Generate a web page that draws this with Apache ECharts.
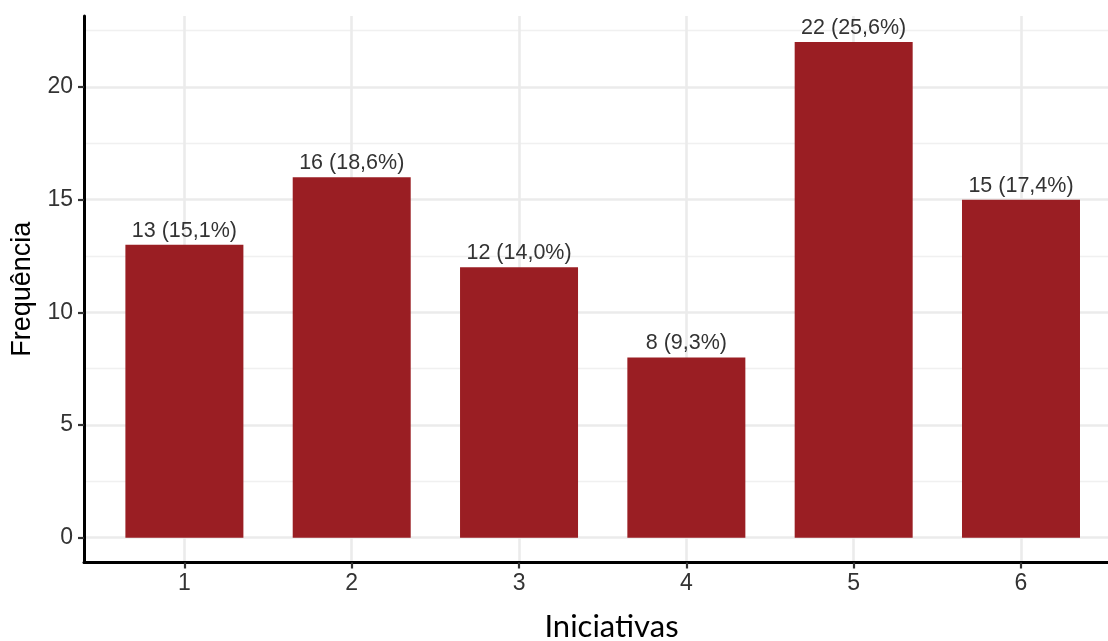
<!DOCTYPE html>
<html>
<head>
<meta charset="utf-8">
<script src="https://cdn.jsdelivr.net/npm/echarts@6/dist/echarts.min.js"></script>
<style>
html,body{margin:0;padding:0;background:#fff;}
#chart{width:1108px;height:641px;}
</style>
</head>
<body>
<div id="chart"></div>
<script>
// Data
const categories = ['1', '2', '3', '4', '5', '6'];
const counts = [13, 16, 12, 8, 22, 15];
const percents = ['15,1', '18,6', '14,0', '9,3', '25,6', '17,4'];
const yTicks = [0, 5, 10, 15, 20];
const yMinorTicks = [2.5, 7.5, 12.5, 17.5, 22.5];
const xTicks = [1, 2, 3, 4, 5, 6];

const SANS = "'Liberation Sans', Arial, Helvetica, sans-serif";

const chart = echarts.init(document.getElementById('chart'), null, {renderer: 'canvas'});

const seriesData = categories.map((c, i) => ({
  value: [i + 1, counts[i]],
  label: {formatter: counts[i] + ' (' + percents[i] + '%)'}
}));

const option = {
  backgroundColor: '#ffffff',
  animation: false,
  grid: {left: 84, right: 0, top: 16, bottom: 78.5, containLabel: false, outerBoundsMode: 'none'},
  xAxis: {
    type: 'value',
    min: 0.4,
    max: 6.52,
    name: 'Iniciativas',
    nameLocation: 'middle',
    nameGap: 49,
    nameTextStyle: {fontFamily: "Lato, 'Open Sans', sans-serif", fontSize: 31, color: '#000', padding: [0, 0, 0, 31]},
    axisLine: {show: true, onZero: false, lineStyle: {color: '#000', width: 3}},
    axisTick: {show: true, customValues: xTicks, length: 6, lineStyle: {color: '#333', width: 2.2}},
    axisLabel: {
      customValues: xTicks, margin: 10, fontFamily: SANS, fontSize: 23, color: '#333',
      formatter: v => categories[Math.round(v) - 1]
    },
    splitLine: {show: true, lineStyle: {color: '#EBEBEB', width: 2.6}}
  },
  yAxis: [{
    type: 'value',
    min: -1.1,
    max: 23.15,
    name: 'Frequência',
    nameLocation: 'middle',
    nameRotate: 90,
    nameGap: 48,
    nameTextStyle: {fontFamily: SANS, fontSize: 27, color: '#000'},
    axisLine: {show: true, onZero: false, lineStyle: {color: '#000', width: 3}},
    axisTick: {show: true, customValues: yTicks, length: 6, lineStyle: {color: '#333', width: 2.2}},
    axisLabel: {customValues: yTicks, margin: 11, fontFamily: SANS, fontSize: 23, color: '#333'},
    splitLine: {show: true, lineStyle: {color: '#EBEBEB', width: 2.6}}
  }, {
    type: 'value',
    min: -1.1,
    max: 23.15,
    position: 'left',
    axisLine: {show: false},
    axisTick: {show: false, customValues: yMinorTicks},
    axisLabel: {show: false, customValues: yMinorTicks},
    splitLine: {show: true, lineStyle: {color: '#F0F0F0', width: 1.3}}
  }],
  series: [{
    type: 'bar',
    yAxisIndex: 0,
    data: seriesData,
    barWidth: 118,
    itemStyle: {color: '#9A1E23'},
    label: {
      show: true, position: 'top', distance: 3,
      fontFamily: SANS, fontSize: 21.5, color: '#333'
    }
  }]
};
chart.setOption(option);
</script>
</body>
</html>
